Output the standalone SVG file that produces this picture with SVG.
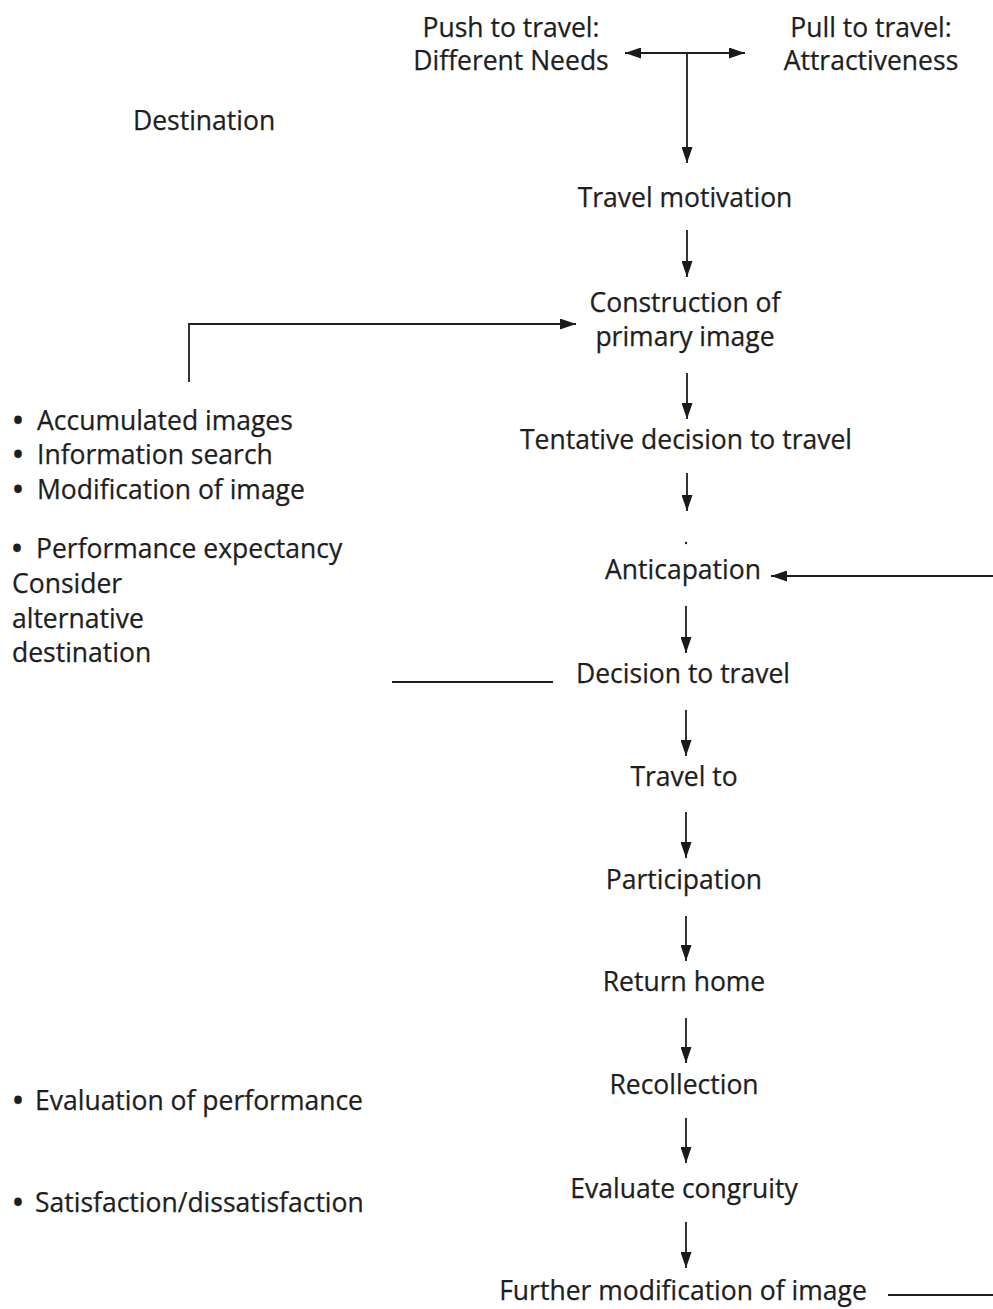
<svg xmlns="http://www.w3.org/2000/svg" width="993" height="1309" viewBox="0 0 993 1309">
<defs>
<marker id="ah" viewBox="0 0 16 11" refX="16" refY="5.5" markerWidth="16" markerHeight="11" markerUnits="userSpaceOnUse" orient="auto-start-reverse">
<path d="M0,0 L16,5.5 L0,11 z" fill="#1a1a1a"/>
</marker>
<style>
text{font-family:"Open Sans","Noto Sans",sans-serif;font-size:26.5px;fill:#1e1e1e;stroke:#1e1e1e;stroke-width:0.25}
.c{text-anchor:middle}
.b{font-weight:bold}
.ln{stroke:#1e1e1e;stroke-width:1.8;fill:none}
.ar{marker-end:url(#ah)}
</style>
</defs>
<rect width="993" height="1309" fill="#fff"/>
<g id="connectors">
<path class="ln ar" d="M686,53 L625,53" />
<path class="ln ar" d="M686,53 L745,53" />
<path class="ln ar" d="M687,53 L687,163" />
<path class="ln ar" d="M687,230 L687,277" />
<path class="ln ar" d="M189,382 L189,324 L576,324" />
<path class="ln ar" d="M687,373 L687,419" />
<path class="ln ar" d="M687,473 L687,511" />
<path class="ln ar" d="M993,576 L771,576" />
<path class="ln ar" d="M686,606 L686,653" />
<path class="ln" d="M392,682 L553,682" />
<path class="ln ar" d="M686,710 L686,756" />
<path class="ln ar" d="M686,812 L686,858" />
<path class="ln ar" d="M686,916 L686,961" />
<path class="ln ar" d="M686,1018 L686,1063" />
<path class="ln ar" d="M686,1118 L686,1163" />
<path class="ln ar" d="M686,1222 L686,1268" />
<path class="ln" d="M888,1295 L993,1295" />
<circle cx="686" cy="543" r="1.2" fill="#1e1e1e"/>
</g>
<g id="push"><text class="c" x="511" y="37">Push to travel:</text><text class="c" x="511" y="70">Different Needs</text></g>
<g id="pull"><text class="c" x="871" y="37">Pull to travel:</text><text class="c" x="871" y="70">Attractiveness</text></g>
<g id="destination"><text x="133" y="130">Destination</text></g>
<g id="travel-motivation"><text class="c" x="685" y="207">Travel motivation</text></g>
<g id="construction"><text class="c" x="685" y="312">Construction of</text><text class="c" x="685" y="346">primary image</text></g>
<g id="tentative"><text class="c" x="686" y="449">Tentative decision to travel</text></g>
<g id="anticapation"><text class="c" x="683" y="579">Anticapation</text></g>
<g id="decision"><text class="c" x="683" y="683">Decision to travel</text></g>
<g id="travel-to"><text class="c" x="684" y="786">Travel to</text></g>
<g id="participation"><text class="c" x="684" y="889">Participation</text></g>
<g id="return-home"><text class="c" x="684" y="991">Return home</text></g>
<g id="recollection"><text class="c" x="684" y="1094">Recollection</text></g>
<g id="evaluate"><text class="c" x="684" y="1198">Evaluate congruity</text></g>
<g id="further"><text class="c" x="683" y="1300">Further modification of image</text></g>
<g id="left-list-1">
<text x="13" y="430"><tspan class="b">•</tspan><tspan x="37">Accumulated images</tspan></text>
<text x="13" y="464"><tspan class="b">•</tspan><tspan x="37">Information search</tspan></text>
<text x="13" y="499"><tspan class="b">•</tspan><tspan x="37">Modification of image</tspan></text>
</g>
<g id="left-list-2">
<text x="12" y="558"><tspan class="b">•</tspan><tspan x="36">Performance expectancy</tspan></text>
<text x="12" y="593">Consider</text>
<text x="12" y="628">alternative</text>
<text x="12" y="662">destination</text>
</g>
<g id="eval-perf"><text x="13" y="1110"><tspan class="b">•</tspan><tspan x="35">Evaluation of performance</tspan></text></g>
<g id="satisfaction"><text x="13" y="1212"><tspan class="b">•</tspan><tspan x="35">Satisfaction/dissatisfaction</tspan></text></g>
</svg>
